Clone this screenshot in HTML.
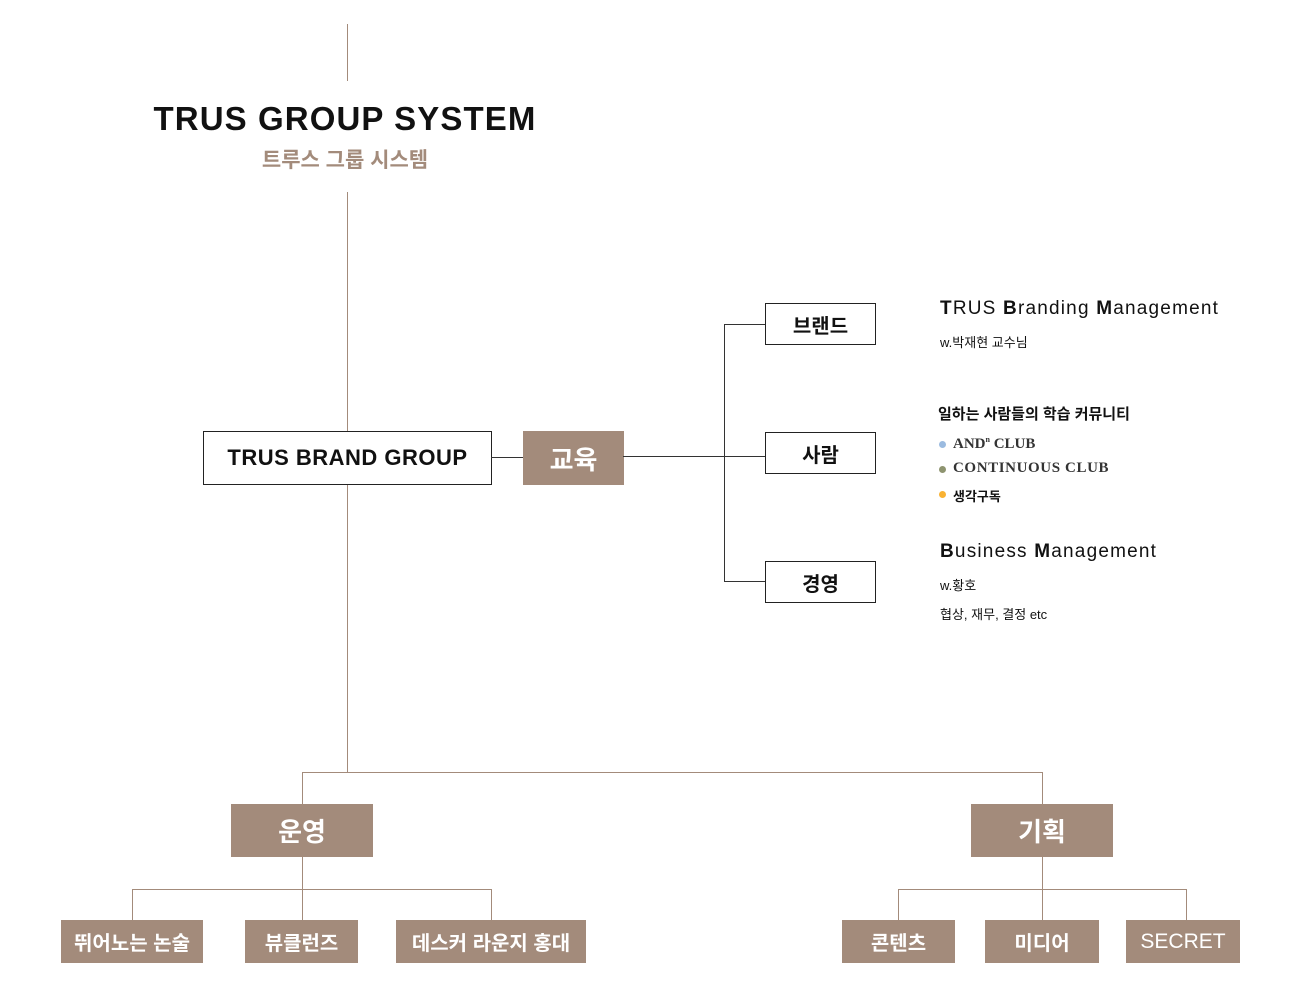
<!DOCTYPE html>
<html><head><meta charset="utf-8"><style>
body{margin:0;width:1300px;height:986px;background:#fff;position:relative;overflow:hidden;font-family:"Liberation Sans","Noto Sans CJK KR",sans-serif}
div{position:absolute;box-sizing:border-box}
.v{width:1px}.h{height:1px}
.br{background:#a38b7b}.dk{background:#333}
.bx{background:#a38b7b;color:#fff;display:flex;align-items:center;justify-content:center;font-weight:bold}
.wb{border:1.5px solid #222;background:#fff;display:flex;align-items:center;justify-content:center;font-weight:bold;color:#111}
.t{white-space:nowrap;color:#111}
</style></head><body>
<div class="v br" style="left:347px;top:24px;height:57px"></div>
<div class="t" style="left:0;width:690px;text-align:center;top:100px;font-size:33px;font-weight:bold;letter-spacing:1.1px">TRUS GROUP SYSTEM</div>
<div class="t" style="left:0;width:690px;text-align:center;top:144px;font-size:21px;font-weight:bold;color:#a38b7b">트루스 그룹 시스템</div>
<div class="v br" style="left:347px;top:192px;height:240px"></div>
<div class="v br" style="left:347px;top:484px;height:288px"></div>
<div class="wb" style="left:203px;top:431px;width:289px;height:54px;font-size:22px;letter-spacing:.5px">TRUS BRAND GROUP</div>
<div class="h dk" style="left:491px;top:457px;width:32px"></div>
<div class="bx" style="left:523px;top:431px;width:101px;height:54px;font-size:26px">교육</div>
<div class="h dk" style="left:623px;top:456px;width:142px"></div>
<div class="v dk" style="left:724px;top:324px;height:258px"></div>
<div class="h dk" style="left:724px;top:324px;width:41px"></div>
<div class="h dk" style="left:724px;top:581px;width:41px"></div>
<div class="wb" style="left:765px;top:303px;width:111px;height:42px;font-size:20px">브랜드</div>
<div class="wb" style="left:765px;top:432px;width:111px;height:42px;font-size:20px">사람</div>
<div class="wb" style="left:765px;top:561px;width:111px;height:42px;font-size:20px">경영</div>
<div class="t" style="left:940px;top:298px;font-size:19px;letter-spacing:1.2px"><b>T</b>RUS <b>B</b>randing <b>M</b>anagement</div>
<div class="t" style="left:940px;top:332px;font-size:13px">w.박재현 교수님</div>
<div class="t" style="left:938px;top:403px;font-size:15px;font-weight:bold">일하는 사람들의 학습 커뮤니티</div>
<div style="left:939px;top:441px;width:7px;height:7px;border-radius:50%;background:#9bbbe0"></div>
<div class="t" style="left:953px;top:435px;font-size:15px;font-weight:bold;font-family:'Liberation Serif',serif;color:#333">AND<sup style="font-size:8px">n</sup> CLUB</div>
<div style="left:939px;top:466px;width:7px;height:7px;border-radius:50%;background:#8e9470"></div>
<div class="t" style="left:953px;top:460px;font-size:15px;font-weight:bold;font-family:'Liberation Serif',serif;color:#333;letter-spacing:.6px">CONTINUOUS CLUB</div>
<div style="left:939px;top:491px;width:7px;height:7px;border-radius:50%;background:#f9b233"></div>
<div class="t" style="left:953px;top:486px;font-size:13px;font-weight:bold">생각구독</div>
<div class="t" style="left:940px;top:541px;font-size:19px;letter-spacing:1.2px"><b>B</b>usiness <b>M</b>anagement</div>
<div class="t" style="left:940px;top:575px;font-size:13px">w.황호</div>
<div class="t" style="left:940px;top:604px;font-size:13px">협상, 재무, 결정 etc</div>
<div class="h br" style="left:302px;top:772px;width:741px"></div>
<div class="v br" style="left:302px;top:772px;height:32px"></div>
<div class="v br" style="left:1042px;top:772px;height:32px"></div>
<div class="bx" style="left:231px;top:804px;width:142px;height:53px;font-size:26px">운영</div>
<div class="bx" style="left:971px;top:804px;width:142px;height:53px;font-size:26px">기획</div>
<div class="v br" style="left:302px;top:856px;height:64px"></div>
<div class="v br" style="left:1042px;top:856px;height:64px"></div>
<div class="h br" style="left:132px;top:889px;width:360px"></div>
<div class="v br" style="left:132px;top:889px;height:31px"></div>
<div class="v br" style="left:491px;top:889px;height:31px"></div>
<div class="h br" style="left:898px;top:889px;width:289px"></div>
<div class="v br" style="left:898px;top:889px;height:31px"></div>
<div class="v br" style="left:1186px;top:889px;height:31px"></div>
<div class="bx" style="left:61px;top:920px;width:142px;height:43px;font-size:20px">뛰어노는 논술</div>
<div class="bx" style="left:245px;top:920px;width:113px;height:43px;font-size:20px">뷰클런즈</div>
<div class="bx" style="left:396px;top:920px;width:190px;height:43px;font-size:20px">데스커 라운지 홍대</div>
<div class="bx" style="left:842px;top:920px;width:113px;height:43px;font-size:20px">콘텐츠</div>
<div class="bx" style="left:985px;top:920px;width:114px;height:43px;font-size:20px">미디어</div>
<div class="bx" style="left:1126px;top:920px;width:114px;height:43px;font-size:21px;font-weight:normal">SECRET</div>
</body></html>
